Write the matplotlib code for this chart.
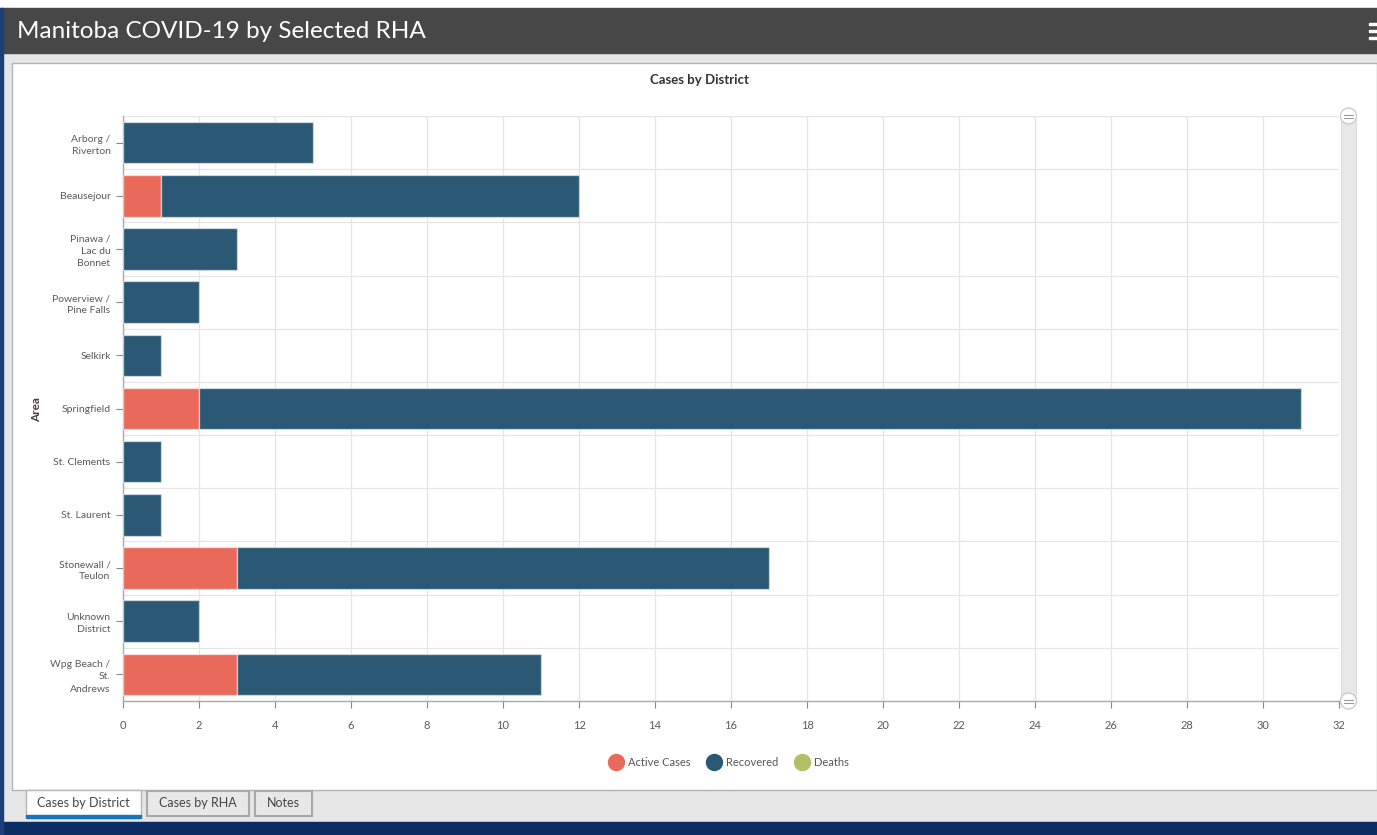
"""
Manitoba COVID-19 by Selected RHA - cases by district dashboard panel.
"""

import matplotlib
matplotlib.use("Agg")
import matplotlib.pyplot as plt
from matplotlib.patches import Rectangle, Circle
from matplotlib.lines import Line2D
import numpy as np

plt.rcParams['font.family'] = ['Lato', 'DejaVu Sans']

# data
districts = [
    "Arborg /\nRiverton", "Beausejour", "Pinawa /\nLac du\nBonnet",
    "Powerview /\nPine Falls", "Selkirk", "Springfield", "St. Clements",
    "St. Laurent", "Stonewall /\nTeulon", "Unknown\nDistrict",
    "Wpg Beach /\nSt.\nAndrews",
]
active_cases = [0, 1, 0, 0, 0, 2, 0, 0, 3, 0, 3]
recovered = [5, 11, 3, 2, 1, 29, 1, 1, 14, 2, 8]
deaths = [0, 0, 0, 0, 0, 0, 0, 0, 0, 0, 0]
x_ticks = list(range(0, 33, 2))

ACTIVE = '#e96a5b'
RECOVERED = '#2b5875'
DEATHS = '#b3be66'
W, H = 1377, 835

fig = plt.figure(figsize=(W / 100, H / 100), dpi=100)

# page frame drawn in pixel coordinates
bg = fig.add_axes([0, 0, 1, 1])
bg.set_xlim(0, W)
bg.set_ylim(H, 0)
bg.axis('off')
bg.add_patch(Rectangle((0, 0), W, H, color='#e6e6e6', zorder=0))
bg.add_patch(Rectangle((0, 0), W, 8, color='white', zorder=1))
bg.add_patch(Rectangle((0, 8), W, 45, color='#474747', zorder=1))
bg.add_patch(Rectangle((0, 822), W, 13, color='#0c2d63', zorder=1))
bg.add_patch(Rectangle((0, 8), 3, 827, color='#1c3f7a', zorder=2))
bg.add_patch(Rectangle((12, 63), W - 12, 727, facecolor='white',
                       edgecolor='#b5b5b5', lw=1, zorder=1))
bg.text(17, 31, "Manitoba COVID-19 by Selected RHA", color='white',
        fontsize=17.5, va='center', ha='left', zorder=3)
for yy in (23, 30, 37):
    bg.add_patch(Rectangle((1369, yy), 8, 2.2, color='white', zorder=3))

bg.text(700, 80, "Cases by District", fontsize=9.5, fontweight='bold',
        color='#333333', ha='center', va='center', zorder=3)
bg.text(37, 410, "Area", fontsize=8.5, fontweight='bold', color='#4a3c36',
        rotation=90, ha='center', va='center', zorder=3)

# tabs
tabs = [("Cases by District", 26, 141), ("Cases by RHA", 147, 249), ("Notes", 255, 312)]
for i, (label, x0, x1) in enumerate(tabs):
    if i == 0:
        bg.add_patch(Rectangle((x0, 790), x1 - x0, 27, facecolor='white',
                               edgecolor='#b5b5b5', lw=1, zorder=2))
        bg.add_patch(Rectangle((x0, 815), x1 - x0, 2.5, color='#1a73bd', zorder=3))
    else:
        bg.add_patch(Rectangle((x0, 791), x1 - x0, 25, facecolor='#e8e8e8',
                               edgecolor='#a8a8a8', lw=1.5, zorder=2))
    bg.text((x0 + x1) / 2, 803, label, fontsize=9, color='#444444',
            ha='center', va='center', zorder=4)

# scroll bar
bg.add_patch(Rectangle((1341, 116), 15, 585, facecolor='#e8e8e8',
                       edgecolor='#dddddd', lw=0.8, zorder=2))
for yy in (116, 701):
    bg.add_patch(Circle((1348.5, yy), 8, facecolor='white', edgecolor='#cccccc',
                        lw=1, zorder=3))
    bg.plot([1344, 1353], [yy - 1.5, yy - 1.5], color='#999999', lw=0.8, zorder=4)
    bg.plot([1344, 1353], [yy + 1.5, yy + 1.5], color='#999999', lw=0.8, zorder=4)

# main chart
ax = fig.add_axes([123 / W, (H - 701) / H, (1339 - 123) / W, 585 / H])
y = np.arange(len(districts))
ax.barh(y, active_cases, height=0.78, color=ACTIVE,
        edgecolor=(1, 1, 1, 0.5), linewidth=1, zorder=3)
ax.barh(y, recovered, left=active_cases, height=0.78, color=RECOVERED,
        edgecolor=(1, 1, 1, 0.5), linewidth=1, zorder=3)
ax.barh(y, deaths, left=np.add(active_cases, recovered), height=0.78,
        color=DEATHS, zorder=3)

ax.set_xlim(0, 32)
ax.set_ylim(len(districts) - 0.5, -0.5)
ax.set_xticks(x_ticks)
ax.set_xticklabels([str(t) for t in x_ticks])
ax.set_yticks(y)
ax.set_yticklabels(districts, linespacing=1.45, multialignment='right')
ax.set_yticks(np.arange(len(districts) + 1) - 0.5, minor=True)
ax.tick_params(axis='both', which='major', labelsize=7.5, colors='#888888',
               labelcolor='#5a5a5a', length=5, width=0.8)
ax.tick_params(axis='x', which='major', pad=9, labelsize=8)
ax.tick_params(axis='y', which='major', pad=4)
ax.tick_params(axis='y', which='minor', length=0)
ax.grid(axis='x', which='major', color='#e6e6e6', lw=0.9, zorder=0)
ax.grid(axis='y', which='minor', color='#e6e6e6', lw=0.9, zorder=0)
for side in ('top', 'right'):
    ax.spines[side].set_visible(False)
for side in ('left', 'bottom'):
    ax.spines[side].set_color('#aaaaaa')
    ax.spines[side].set_linewidth(1)
ax.set_axisbelow(True)

handles = [Line2D([], [], marker='o', ls='', color=c, markersize=11.5)
           for c in (ACTIVE, RECOVERED, DEATHS)]
fig.legend(handles, ["Active Cases", "Recovered", "Deaths"], ncol=3,
           loc='center', bbox_to_anchor=(729 / W, 1 - 762 / H), frameon=False,
           fontsize=8, labelcolor='#555555', handletextpad=0.5,
           columnspacing=1.5, handlelength=1.2)

plt.savefig("out.png", dpi=100)
plt.close()
